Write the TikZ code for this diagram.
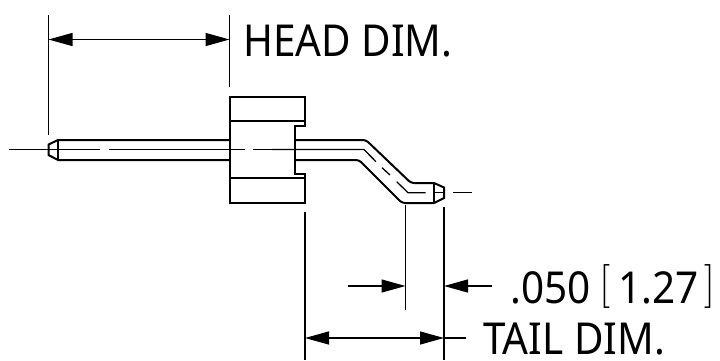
\documentclass[tikz,border=0pt]{standalone}
\usepackage{fontspec}
\setsansfont[FakeStretch=0.92]{Noto Sans}
\usetikzlibrary{arrows.meta}
\tikzset{
  dimtip/.tip={Triangle[length=24pt,width=13pt]},
  part/.style={line width=2pt,line join=miter},
  thinpart/.style={line width=1.4pt},
  extline/.style={line width=1.4pt},
  heavyext/.style={line width=1.8pt},
  centerline/.style={line width=1.3pt},
  dimline/.style={line width=1.3pt},
  dimtext/.style={inner sep=0pt,anchor=base west,font=\sffamily\fontsize{44}{44}\selectfont,text=black},
  brk/.style={inner sep=0pt,anchor=base west,font=\rmfamily\fontsize{44}{44}\selectfont}
}
\begin{document}
\begin{tikzpicture}[x=1pt,y=-1pt]
\useasboundingbox (0,0) rectangle (720,360);
% extension lines
\draw[extline] (48.5,15) -- (48.5,135);
\draw[extline] (229.5,15) -- (229.5,87);
\draw[extline] (305,212) -- (305,360);
\draw[extline] (405.5,205) -- (405.5,310);
\draw[heavyext] (444,207) -- (444,310);
\draw[extline] (444,310) -- (444,360);
% head body
\draw[part] (305,121) -- (305,97) -- (230,97) -- (230,203) -- (305,203) -- (305,178);
\draw[thinpart] (305,97) -- (305,127);
\draw[thinpart] (305,173) -- (305,203);
\draw[thinpart] (230,121) -- (305,121);
\draw[thinpart] (230,178) -- (305,178);
\draw[part] (305,126) -- (295,126) -- (295,174) -- (305,174);
% left pin
\draw[part] (230,140) -- (58,140) -- (48.5,144.5) -- (48.5,155) -- (58,160) -- (230,160);
\draw[thinpart] (58,140) -- (58,160);
% right pin
\draw[part,rounded corners=3pt] (295,140) -- (366,140) -- (411,183) -- (434,183);
\draw[part,rounded corners=3pt] (295,160) -- (359,160) -- (402,203) -- (434,203);
\draw[part] (434,183) -- (444,187.5) -- (444,198) -- (434,203);
\draw[thinpart] (434,183) -- (434,203);
% centre line
\draw[centerline] (9,149.5) -- (100,149.5);
\draw[centerline] (109,149.5) -- (129,149.5);
\draw[centerline] (129,149.5) -- (245,149.5);
\draw[centerline] (253,149.5) -- (272,149.5);
\draw[centerline] (272,149.5) -- (364,149.5) -- (376,161.7);
\draw[centerline] (382,167.7) -- (390,175);
\draw[centerline] (396.7,181.7) -- (408,192.7) -- (425.7,192.7);
\draw[centerline] (434,192.7) -- (444,192.7);
\draw[centerline] (453,192.7) -- (472,192.7);
% dimension lines
\draw[dimline,dimtip-dimtip] (48.5,39.5) -- (229.5,39.5);
\draw[dimline,-dimtip] (348,286) -- (405.5,286);
\draw[dimline,-dimtip] (492,286) -- (444,286);
\draw[dimline,dimtip-dimtip] (305,338) -- (444,338);
\draw[dimline] (444,338) -- (466,338);
% texts
\node[dimtext] (head) at (243,56) {HEAD DIM.};
\node[dimtext] (val) at (510,303) {.050};
\node[brk] (lb) at (599,297) {[};
\node[dimtext] (mm) at (618,303) {1.27};
\node[brk] (rb) at (704,297) {]};
\node[dimtext] (tail) at (483,354) {TAIL DIM.};
\end{tikzpicture}
\end{document}
